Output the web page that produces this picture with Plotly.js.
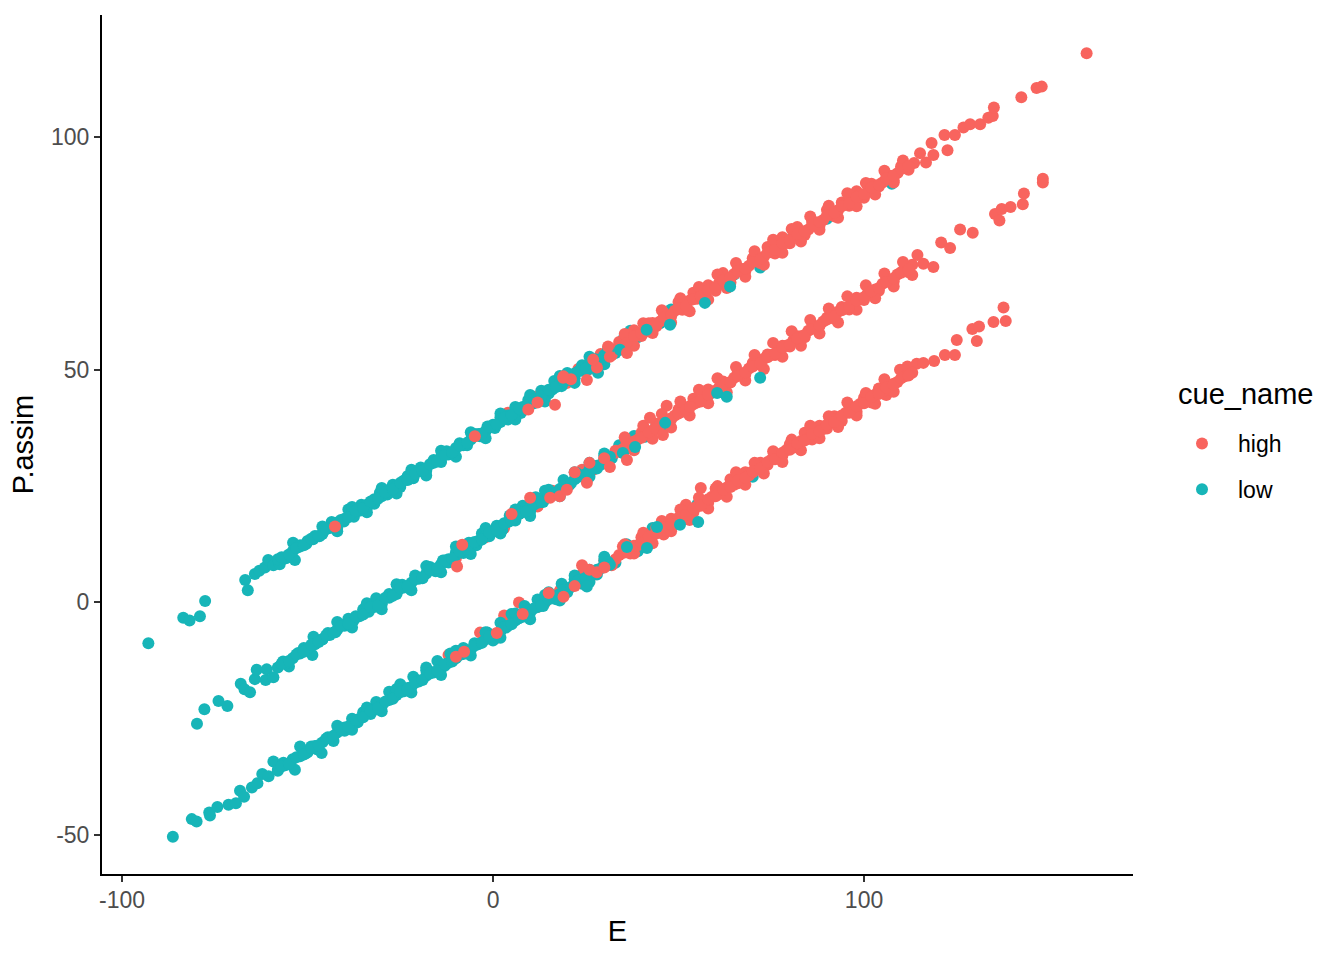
<!DOCTYPE html>
<html>
<head>
<meta charset="utf-8">
<script src="https://cdn.plot.ly/plotly-3.0.1.min.js"></script>
<style>html,body{margin:0;padding:0;background:#fff}</style>
</head>
<body>
<div id="chart" style="width:1344px;height:960px"></div>
<script>
const lowTopE = [-92.9,-83.5,-81.8,-79,-77.6,-66.8,-66.1,
-64.2,-63,-61.5,-60.6,-59.2,-57.5,-55.8,-53.4,-53.9,-52,
-50.3,-48.5,-46.8,-45,-43.5,-42,-40.2,-39,-37.5,-35.5,
-34,-32,-30.5,-28.5,-27,-25,-23,-21.5,-19.5,-18,
-16,-14,-12.5,-10.5,-9,-7,-5,-3.5,-1.5,0.5,
2,4,6,7.5,9.5,11,13,15,16.5,18.5,
20,22,24,25.5,27.5,29,31,33,35,37,
39,42,45,48,52,56,60,65,72,80,
90,107.5,
-58,-56,-54,-52,-50,-48,-46,-44,-42,-40,
-38,-36,-34,-32,-30,-28,-26,-24,-22,-20,
-18,-16,-14,-12,-10,-8,-6,-4,-2,0,
2,4,6,8,10,12,14,16,18,20,
22,24,26,28,30,
-46,-42,-38,-34,-30,-26,-22,-18,-14,-10,
-6,-2,2,6,10,14,18,22,26,30];
const lowTopP = [-8.8,-3.3,-3.9,-3,0.3,4.8,2.6,
6.1,6.8,7.5,9.1,8,8.2,9.5,9.1,12.8,12.3,
12.6,13.6,14.2,15.9,17.3,16,17.4,20,18.4,21,
20.4,21.2,23.6,23.2,25.3,24.8,27.2,26.7,29,28.3,
30.6,30.2,32.5,32,34.2,33.8,36.2,35.7,37.8,37.5,
39.8,39.3,42,40.7,43.5,42.8,45.5,44.9,47.6,46.5,
49.3,48.2,51,50,52.3,52,54.5,53.6,56.5,58.4,
57,59.8,60,63,63.6,66,67.6,70.5,72,78,
82.5,90,
9.3,9.7,11,12,13.2,14.3,14.7,16,17.2,18,
19.3,19.7,21,22.2,22.8,24.2,24.9,26.2,26.8,28.2,
28.8,30,31.2,31.8,33.2,33.8,35,36.2,36.8,38.2,
38.8,40.2,40.8,42,43.2,43.8,45.2,45.8,47.2,47.8,
49.2,49.8,51.2,51.8,53.2,
16.3,15.3,20.5,19.4,24.6,23.4,28.5,27.3,32.6,31.3,
36.6,35.3,40.6,39.3,44.6,43.2,48.7,47.2,52.8,51.2];
const lowOddE = [-57,-55,-53,-51,-49,-47,-45,-43,-41,-39,
-37,-35,-33,-31,-29,-27,-25,-23,-21,-19,
-17,-15,-13,-11,-9,-7,-5,-3,-1,1,
3,5,7,9,11,13,15,17,19,21,
23,25,27,29,31];
const lowOddTopP = [9.7,10.3,11.7,12.3,13.7,14.3,15.7,16.3,17.7,18.3,
19.7,20.3,21.7,22.3,23.7,24.3,25.7,26.3,27.7,28.3,
29.7,30.3,31.7,32.3,33.7,34.3,35.7,36.3,37.7,38.3,
39.7,40.3,41.7,42.3,43.7,44.3,45.7,46.3,47.7,48.3,
49.7,50.3,51.7,52.3,53.7];
const lowOddMidP = [-13.2,-12.6,-11.2,-10.6,-9.1,-8.5,-7.1,-6.5,-5.1,-4.6,
-3,-2.6,-1,-0.6,1,1.4,3,3.4,5,5.4,
7,7.4,9,9.4,11,11.5,13,13.5,15,15.6,
17,17.6,19,19.6,21,21.6,23,23.6,25,25.6,
27,27.6,29,29.6,31];
const lowOddBotP = [-35.3,-34.7,-33.3,-32.7,-31.3,-30.7,-29.3,-28.7,-27.3,-26.7,
-25.3,-24.7,-23.3,-22.7,-21.3,-20.7,-19.3,-18.7,-17.3,-16.7,
-15.3,-14.7,-13.3,-12.7,-11.3,-10.7,-9.3,-8.7,-7.3,-6.7,
-5.3,-4.7,-3.3,-2.7,-1.3,-0.7,0.7,1.3,2.7,3.3,
4.7,5.3,6.7,7.3,8.7];
const highTopE = [4,8,11,14,17,20,23,26,29,32,
34,36,38,40,42,44,46,48,50,52,
54,56,58,60,62,64,66,68,70,72,
74,76,78,80,82,84,86,88,90,92,
94,96,98,100,102,104,106,108,110,112,
113.5,115.1,116.7,118.2,118.7,121.7,122.5,124.5,126.8,128.6,
131.3,133.5,134.7,135,142.4,146.5,147.9,160,
33,35,37,39,41,43,45,47,49,51,
53,55,57,59,61,63,65,67,69,71,
73,75,77,79,81,83,85,87,89,91,
93,95,97,99,101,103,105,107,109,111,
35.5,38,40.5,43,45.5,48,50.5,53,55.5,58,
60.5,63,65.5,68,70.5,73,75.5,78,80.5,83,
85.5,88,90.5,93,95.5,98,100.5,103,105.5,108,110.5];
const highTopP = [40.8,41.2,44.2,44,47.3,47.2,50.2,50.2,53.4,53.2,
56,55.2,58.5,57.3,60,59.4,62.3,61.5,64.6,63,
66.6,65.4,68.2,67,70.8,68.8,71.8,71.2,74,73,
76.4,75,78.5,77.2,80.7,79,82,81,84.4,83,
86,85.3,88.4,87,90,89.4,92,90.7,93.8,93,
94.5,96.6,94.6,98.8,96.2,100.5,97.2,100.5,102.1,102.8,
102.8,104.2,104.6,106.4,108.6,110.6,110.9,118.1,
54.5,56.1,56,57.9,58.2,60.1,60.4,61.2,62.7,62.9,
64.9,65.3,66.3,67.7,68.8,69.3,70.6,71.7,72.4,73.7,
74.3,75.3,76.6,77.3,78.7,79.7,80.2,81.7,82.2,83.9,
84.3,85.6,86.4,87.7,88.3,89.5,90.3,91.7,92.3,93.6,
57.7,55.2,60,57.9,62.8,60.2,65.4,62.6,67.8,65.1,
70.5,67.6,73,70,75.5,72.6,78,75.2,80.3,77.6,
83,80.1,85.3,82.7,88,85.2,90.2,87.7,92.8,90.3,95];
const highEvenE = [34,36,38,40,42,44,46,48,50,52,
54,56,58,60,62,64,66,68,70,72,
74,76,78,80,82,84,86,88,90,92,
94,96,98,100,102,104,106,108,110,112];
const highEvenTopP = [55.2,55.8,57.2,57.8,59.2,59.8,61.2,61.8,63.2,63.8,
65.2,65.8,67.2,67.8,69.2,69.8,71.2,71.8,73.2,73.8,
75.2,75.8,77.2,77.8,79.2,79.8,81.2,81.8,83.2,83.8,
85.2,85.8,87.2,87.8,89.2,89.8,91.2,91.8,93.2,93.8];
const highEvenMidP = [32.5,33.3,34.6,35.4,36.6,37.3,38.6,39.4,40.6,41.3,
42.6,43.4,44.7,45.5,46.7,47.4,48.7,49.5,50.7,51.4,
52.7,53.5,54.8,55.5,56.8,57.5,58.8,59.6,60.8,61.5,
62.8,63.6,64.9,65.6,66.9,67.6,68.9,69.7,70.9,71.6];
const highEvenBotP = [10.2,10.8,12.2,12.8,14.2,14.8,16.2,16.8,18.2,18.8,
20.2,20.8,22.2,22.8,24.2,24.8,26.2,26.8,28.2,28.8,
30.2,30.8,32.2,32.8,34.2,34.8,36.2,36.8,38.2,38.8,
40.2,40.8,42.2,42.8,44.2,44.8,46.2,46.8,48.2,48.8];
const lowMidE = [-79.8,-77.8,-74,-71.6,-68,-67,-65.5,-64.2,-63.7,-61.3,
-61,-59.2,-56.6,-55,-52.5,-51,-48.7,-48.4,-46,-44.5,
-42.5,-41,-39,-37.5,-35,-33.5,-31.5,-30,-28,-26,
-24.5,-22.5,-21,-19,-17,-15.5,-13.5,-12,-10,-8,
-6.5,-4.5,-3,-1,1,2.5,4.5,6,8,10,
11.5,13.5,15,17,19,20.5,22.5,24,26,28,
30,32,34,36,38,41,44,47,52,58,
62,70,
-58,-56,-54,-52,-50,-48,-46,-44,-42,-40,
-38,-36,-34,-32,-30,-28,-26,-24,-22,-20,
-18,-16,-14,-12,-10,-8,-6,-4,-2,0,
2,4,6,8,10,12,14,16,18,20,
22,24,26,28,30,
-42,-38,-34,-30,-26,-22,-18,-14,-10,-6,
-2,2,6,10,14,18,22,26,30];
const lowMidP = [-26.1,-23,-21.2,-22.3,-17.5,-18.7,-19.3,-16.5,-14.5,-16.7,
-14.4,-16.1,-12.7,-13.8,-10.9,-9.8,-11.3,-7.4,-8,-6.6,
-6.4,-4.8,-3.5,-3.8,-1.5,-2,0.9,-0.4,1.8,1.8,
3.8,3,5.8,5.2,7.6,6.7,9,8.6,10.8,10.6,
12.8,12.3,14.8,14.2,16.5,15.6,18.7,17.6,20.8,19.6,
22.6,21.6,24.2,23.6,26.3,25.2,27.8,27.2,30,28.8,
31.6,31,33.8,33,35.8,35.6,38,38,41,44.5,
46,51,
-14,-13.2,-12,-11,-10,-9,-7.9,-7,-5.9,-5,
-3.8,-3,-1.9,-1,0.1,1,2.2,3.2,4.2,5.1,
6.2,7.2,8.2,9.3,10.2,11.2,12.3,13.2,14.3,15.2,
16.4,17.3,18.3,19.4,20.3,21.4,22.4,23.3,24.4,25.4,
26.5,27.3,28.5,29.4,30.5,
-4.2,-5.4,-0.2,-1.5,3.9,2.6,7.8,6.5,12,10.4,
16,14.8,20,18.6,24,22.8,28,27,32];
const highMidE = [-10,-6,-2,3,7,12,16,20,24,27,
30,33,36,38,40,42,44,46.8,48,50,
52,54,56,58,60,62,64,66,68,70,
72,74,76,78,80,82,84,86,88,90,
92,94,96,98,100,102,104,106,108,110,
112,114.4,116,118.7,120.8,123.2,125.9,129.3,135.3,136.5,
137.1,139.5,142.8,143.1,148.2,148.2,
33,35,37,39,41,43,45,47,49,51,
53,55,57,59,61,63,65,67,69,71,
73,75,77,79,81,83,85,87,89,91,
93,95,97,99,101,103,105,107,109,111,113,
35.5,38,40.5,43,45.5,48,50.5,53,55.5,58,
60.5,63,65.5,68,70.5,73,75.5,78,80.5,83,
85.5,88,90.5,93,95.5,98,100.5,103,105.5,108,110.5,113];
const highMidP = [9.5,12.5,14,16,19,20.6,24,25,28.5,28.5,
31,32.6,34.5,34.2,36.5,36.2,38.4,42.3,39.6,41.5,
41.6,43.8,43.2,45.8,45.4,47.5,47.3,49.5,49,51.5,
51.2,53.3,53.2,55.2,55,57.2,57,59,59.5,61.2,
61,63.5,63,65.5,65,67,67,69.5,69,71,
71,74.7,72.8,72.1,77.4,76.2,80.2,79.5,83.5,82.1,
84.6,85,85.6,87.9,90.3,91.1,
32.2,33,34.2,35,36.2,37,38.2,39,40.2,41,
42.2,43,44.3,45.1,46.3,47.1,48.3,49.1,50.3,51.2,
52.4,53.2,54.4,55.2,56.4,57.2,58.4,59.2,60.4,61.3,
62.5,63.3,64.5,65.3,66.5,67.3,68.5,69.3,70.5,71.4,72.6,
35.5,32.7,38,35.2,40.5,37.6,43.2,40.2,45.7,42.8,
48.2,45.2,50.6,47.7,53.2,50.2,55.8,52.8,58.3,55.2,
60.7,57.8,63.2,60.2,65.8,62.9,68.2,65.4,70.7,67.9,73.2,70.4];
const lowBotE = [-86.3,-81.2,-79.9,-76.5,-76.3,-74.3,-71.3,-69.3,-68.2,-67.1,
-65,-63.5,-62.2,-60.5,-59.2,-58,-56.5,-55,-53.4,-52,
-50.5,-49,-47.5,-46.2,-44.5,-43,-41.5,-40,-38,-36.5,
-35,-33,-31.5,-30,-28,-26.5,-25,-23,-21.5,-20,
-18,-16.5,-15,-13,-11.5,-10,-8,-6.5,-5,-3,
-1.5,0,2,3.5,5,7,8.5,10,12,13.5,
15,17,18.5,20,22,24,26,28,30,33,
36,39,43,48,55,70,
-58,-56,-54,-52,-50,-48,-46,-44,-42,-40,
-38,-36,-34,-32,-30,-28,-26,-24,-22,-20,
-18,-16,-14,-12,-10,-8,-6,-4,-2,0,
2,4,6,8,10,12,14,16,18,20,
22,24,26,28,30,
-42,-38,-34,-30,-26,-22,-18,-14,-10,-6,
-2,2,6,10,14,18,22,26,30];
const lowBotP = [-50.4,-46.6,-47.1,-45.2,-45.8,-44,-43.5,-43.2,-40.5,-41.8,
-39.8,-38.9,-36.9,-37.4,-34.2,-36,-34.5,-34.8,-36,-31,
-32.5,-31,-31.6,-32.4,-29,-29.8,-27.4,-27.6,-25,-25.8,
-23.6,-24,-21.4,-22.2,-19.2,-20,-17.6,-18.4,-16,-16.8,
-14,-15,-12.6,-13.6,-11,-12,-9.8,-10.4,-8.8,-8.6,
-6.5,-8.2,-4.4,-5.4,-2.5,-3.4,-0.8,-1.7,0.6,-0.8,
2.2,0.7,4,2.2,5,4,7,6,9,8.5,
12.5,11,16,16,21,27,
-36.2,-35,-33.7,-33.1,-32.2,-30.9,-30.1,-29.2,-28,-26.9,
-26.2,-25,-23.8,-23.1,-22.2,-21,-19.9,-19.1,-18.2,-17,
-15.8,-15.1,-14.2,-13,-11.9,-11.1,-10.2,-9,-7.9,-7.1,
-6.2,-5,-3.9,-3.1,-2.2,-1,0.1,0.9,1.8,3,
4.1,4.9,5.8,7,8.1,
-26.5,-27.4,-22.6,-23.4,-18.6,-19.4,-14.6,-15.6,-10.4,-11.4,
-6.4,-7.6,-2.4,-3.6,1.6,0.4,5.8,4.4,9.8];
const highBotE = [-12,-9.5,-3.5,1,3,7,12,14,18,20,
24,26,30,32,35,37,40,42,44,46,
48,50,52,54,56,58,60,62,64,66,
68,70,72,74,76,78,80,82,84,86,
88,90,92,94,96,98,100,102,104,106,
108,109.7,111.7,114.2,116,118.9,121.8,124.5,125,129.2,
130.4,131,134.9,137.6,138.2,
31,33,35,37,39,41,43,45,47,49,
51,53,55,57,59,61,63,65,67,69,
71,73,75,77,79,81,83,85,87,89,
91,93,95,97,99,101,103,105,107,109,111,113,
35.5,38,40.5,43,45.5,48,50.5,53,55.5,58,
60.5,63,65.5,68,70.5,73,75.5,78,80.5,83,
85.5,88,90.5,93,95.5,98,100.5,103,105.5,108];
const highBotP = [-11.3,-10.5,-6.5,-7.6,-2.8,0,-1,0,2.5,3,
6,5,9,8,12,10.5,14,13.2,16,14.6,
18,17.2,21,19.4,24.6,21.4,24.5,23.4,26.5,25.6,
28,28,30,29.6,32,31.6,34,33.4,36.5,35,
38,37.4,40,39,41.5,41,44,43,46,44.6,
47,50,50.7,51.3,51.5,51.9,53.2,53.2,56.4,58.8,
56.2,59.3,60.3,63.4,60.5,
8.6,9.3,10.6,11.8,12.3,13.7,14.3,15.6,16.7,17.3,
18.8,19.2,20.6,21.3,22.7,23.3,24.7,25.3,26.7,27.3,
28.7,29.3,30.7,31.3,32.7,33.3,34.7,35.3,36.7,37.3,
38.7,39.3,40.7,41.3,42.7,43.3,44.7,45.3,46.7,47.4,48.6,49.4,
12.5,10.5,15,12.7,17.5,15.3,20,17.7,22.5,20.2,
25,22.7,28,25.3,30,27.7,32.5,30.2,35,32.7,
38,35.3,40,37.7,43,40.2,45,42.7,48,45.3];
const highOverE = [-42.6,-4.9,9.5,16.7,25.3,21,12,19,28,31,18.9,27,31.5,36.1,
-8.3,-9.7,15.4,26,5,10,18,22,30,19.9,25.3,31.5,36.1,42.3,45.8,53.1,
-10,-7.8,1,26,19,8,15,22,24,28,30];
const highOverP = [16.3,35.7,41.5,42.5,47.8,48,43,48.6,50.5,55,48.3,52.2,52.8,53.6,
12.4,7.7,22.5,30,19,22.5,22.8,28,31,24.2,25.7,29.1,30.6,39.7,36,42,
-11.7,-10.6,-6.6,7,1.2,-2.5,2,3.5,8,6.5,7.5];
const lowMixE = [34.2,41.4,47.7,57.1,63.9,28.3,
31.5,35,38.3,46.4,60.4,63,72,
36.1,41.5,44.2,50.4,55.3,31.5,25.3];
const lowMixP = [54.3,58.6,59.7,64.4,67.9,49.4,
31.3,32.1,33.4,38.6,45,44.2,48.3,
11.9,11.7,16.2,16.7,17.3,8.1,3.4];

const colorHigh = '#F8645E';
const colorLow = '#17B5B8';
const overlapLimit = 32;

const lowE = lowTopE.concat(lowMidE, lowBotE, lowOddE, lowOddE, lowOddE);
const lowP = lowTopP.concat(lowMidP, lowBotP, lowOddTopP, lowOddMidP, lowOddBotP);
const highE = highTopE.concat(highMidE, highBotE, highEvenE, highEvenE, highEvenE);
const highP = highTopP.concat(highMidP, highBotP, highEvenTopP, highEvenMidP, highEvenBotP);
const underIdx = lowE.map((v,i)=>i).filter(i=>lowE[i]>=overlapLimit);
const overIdx = lowE.map((v,i)=>i).filter(i=>lowE[i]<overlapLimit);

function pts(x,y,name,color,legend,rank){
  return {type:'scatter',mode:'markers',x:x,y:y,name:name,legendgroup:name,legendrank:rank,showlegend:legend,
    cliponaxis:false,marker:{color:color,size:12,line:{width:0}}};
}
const traces = [
  pts(underIdx.map(i=>lowE[i]),underIdx.map(i=>lowP[i]),'low',colorLow,false,2),
  pts(highE,highP,'high',colorHigh,true,1),
  pts(overIdx.map(i=>lowE[i]),overIdx.map(i=>lowP[i]),'low',colorLow,true,2),
  pts(lowMixE,lowMixP,'low',colorLow,false,2),
  pts(highOverE,highOverP,'high',colorHigh,false,1)
];
const fontFam = '"Liberation Sans", Arial, sans-serif';
const axisBase = {
  showgrid:false,zeroline:false,showline:true,linecolor:'#000',linewidth:2,
  ticks:'outside',ticklen:6,tickwidth:2,tickcolor:'#333',
  tickfont:{family:fontFam,size:23,color:'#4D4D4D'}
};
const layout = {
  width:1344,height:960,paper_bgcolor:'#fff',plot_bgcolor:'#fff',
  margin:{l:102,r:211,t:15,b:86},
  font:{family:fontFam},
  xaxis:Object.assign({},axisBase,{range:[-105.4,172.5],tickvals:[-100,0,100],ticktext:['-100','0','100'],
    ticklabelstandoff:-2,
    title:{text:'E',font:{family:fontFam,size:29,color:'#000'},standoff:9}}),
  yaxis:Object.assign({},axisBase,{range:[-58.4,126.3],tickvals:[-50,0,50,100],ticktext:['-50','0','50','100'],
    title:{text:'P.assim',font:{family:fontFam,size:29,color:'#000'},standoff:9}}),
  legend:{font:{family:fontFam,size:23,color:'#000'},
    traceorder:'grouped',tracegroupgap:13,itemwidth:62,itemsizing:'constant',bgcolor:'rgba(0,0,0,0)',borderwidth:0,
    xanchor:'left',yanchor:'top',x:(1166-102)/(1133-102),y:(874-422)/(874-15)},
  annotations:[{text:'cue_name',xref:'paper',yref:'paper',x:(1177-102)/(1133-102),y:(874-394)/(874-15),
    xanchor:'left',yanchor:'middle',showarrow:false,borderpad:0,font:{family:fontFam,size:29,color:'#000'}}]
};
Plotly.newPlot('chart',traces,layout,{displayModeBar:false,responsive:false});
</script>
</body>
</html>
